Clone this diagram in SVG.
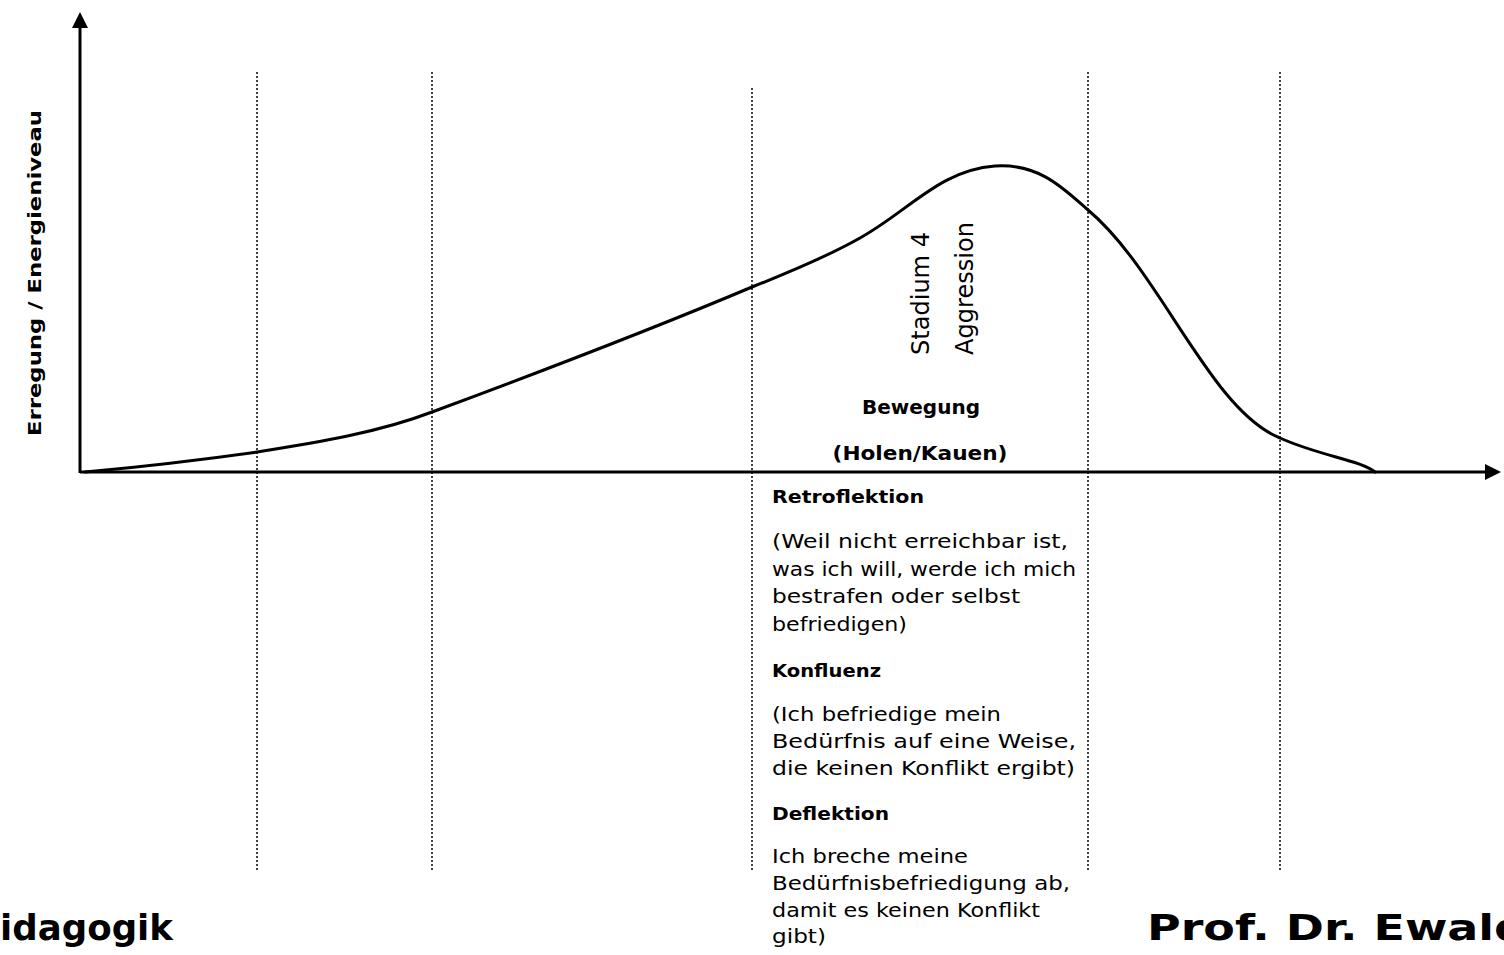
<svg xmlns="http://www.w3.org/2000/svg" width="1504" height="955" viewBox="0 0 1504 955">
<style>
text{font-family:"DejaVu Sans","Liberation Sans",sans-serif;fill:#000}
.b{font-weight:bold}
.t{font-size:19px}
.h{font-size:17px;font-weight:bold}
.axis{stroke:#000;stroke-width:3;fill:none}
.grid{stroke:#000;stroke-width:1.5;stroke-dasharray:2 2;fill:none}
.curve{stroke:#000;stroke-width:3;fill:none;stroke-linecap:round}
</style>
<defs>
<marker id="ah" viewBox="0 0 16 16" refX="2" refY="8" markerWidth="16" markerHeight="16" markerUnits="userSpaceOnUse" orient="auto">
<path d="M0,0 L16,8 L0,16 Z" fill="#000"/>
</marker>
</defs>
<g id="grid">
<line class="grid" x1="257" y1="72" x2="257" y2="872"/>
<line class="grid" x1="432" y1="72" x2="432" y2="872"/>
<line class="grid" x1="752" y1="88" x2="752" y2="872"/>
<line class="grid" x1="1088" y1="72" x2="1088" y2="872"/>
<line class="grid" x1="1280" y1="72" x2="1280" y2="872"/>
</g>
<g id="axes">
<line class="axis" x1="80" y1="473" x2="80" y2="26" marker-end="url(#ah)"/>
<line class="axis" x1="80" y1="472" x2="1487" y2="472" marker-end="url(#ah)"/>
</g>
<g id="curve">
<path class="curve" d="M85,472 C150,466 200,460 257,452 C320,442 380,432 432,412 C540,372 650,330 752,287 C800,268 830,255 860,238 C910,210 940,170 995,166 C1040,163 1065,190 1088,210 C1160,270 1210,410 1280,438 C1320,456 1360,460 1375,472"/>
</g>
<g id="ylabel">
<text class="b" font-size="18" transform="translate(41,436) rotate(-90)" textLength="326" lengthAdjust="spacingAndGlyphs">Erregung / Energieniveau</text>
</g>
<g id="stadium">
<text font-size="24" transform="translate(929,355) rotate(-90)" textLength="123" lengthAdjust="spacingAndGlyphs">Stadium 4</text>
<text font-size="24" transform="translate(973,355) rotate(-90)" textLength="133" lengthAdjust="spacingAndGlyphs">Aggression</text>
<text class="b" font-size="19" x="921" y="414" text-anchor="middle" textLength="118" lengthAdjust="spacingAndGlyphs">Bewegung</text>
<text class="b" font-size="19" x="920" y="460" text-anchor="middle" textLength="175" lengthAdjust="spacingAndGlyphs">(Holen/Kauen)</text>
</g>
<g id="block">
<text class="h" x="772" y="503" textLength="152" lengthAdjust="spacingAndGlyphs">Retroflektion</text>
<text class="t" x="772" y="548" textLength="296" lengthAdjust="spacingAndGlyphs">(Weil nicht erreichbar ist,</text>
<text class="t" x="772" y="576" textLength="304" lengthAdjust="spacingAndGlyphs">was ich will, werde ich mich</text>
<text class="t" x="772" y="603" textLength="248" lengthAdjust="spacingAndGlyphs">bestrafen oder selbst</text>
<text class="t" x="772" y="631" textLength="135" lengthAdjust="spacingAndGlyphs">befriedigen)</text>
<text class="h" x="772" y="677" textLength="109" lengthAdjust="spacingAndGlyphs">Konfluenz</text>
<text class="t" x="772" y="721" textLength="229" lengthAdjust="spacingAndGlyphs">(Ich befriedige mein</text>
<text class="t" x="772" y="748" textLength="304" lengthAdjust="spacingAndGlyphs">Bedürfnis auf eine Weise,</text>
<text class="t" x="772" y="775" textLength="303" lengthAdjust="spacingAndGlyphs">die keinen Konflikt ergibt)</text>
<text class="h" x="772" y="820" textLength="117" lengthAdjust="spacingAndGlyphs">Deflektion</text>
<text class="t" x="772" y="863" textLength="196" lengthAdjust="spacingAndGlyphs">Ich breche meine</text>
<text class="t" x="772" y="890" textLength="298" lengthAdjust="spacingAndGlyphs">Bedürfnisbefriedigung ab,</text>
<text class="t" x="772" y="917" textLength="268" lengthAdjust="spacingAndGlyphs">damit es keinen Konflikt</text>
<text class="t" x="772" y="943" textLength="54" lengthAdjust="spacingAndGlyphs">gibt)</text>
</g>
<g id="footer">
<text class="b" font-size="36" x="0" y="940" textLength="173" lengthAdjust="spacingAndGlyphs">idagogik</text>
<text class="b" font-size="36" x="1147" y="940" textLength="380" lengthAdjust="spacingAndGlyphs">Prof. Dr. Ewald</text>
</g>
</svg>
